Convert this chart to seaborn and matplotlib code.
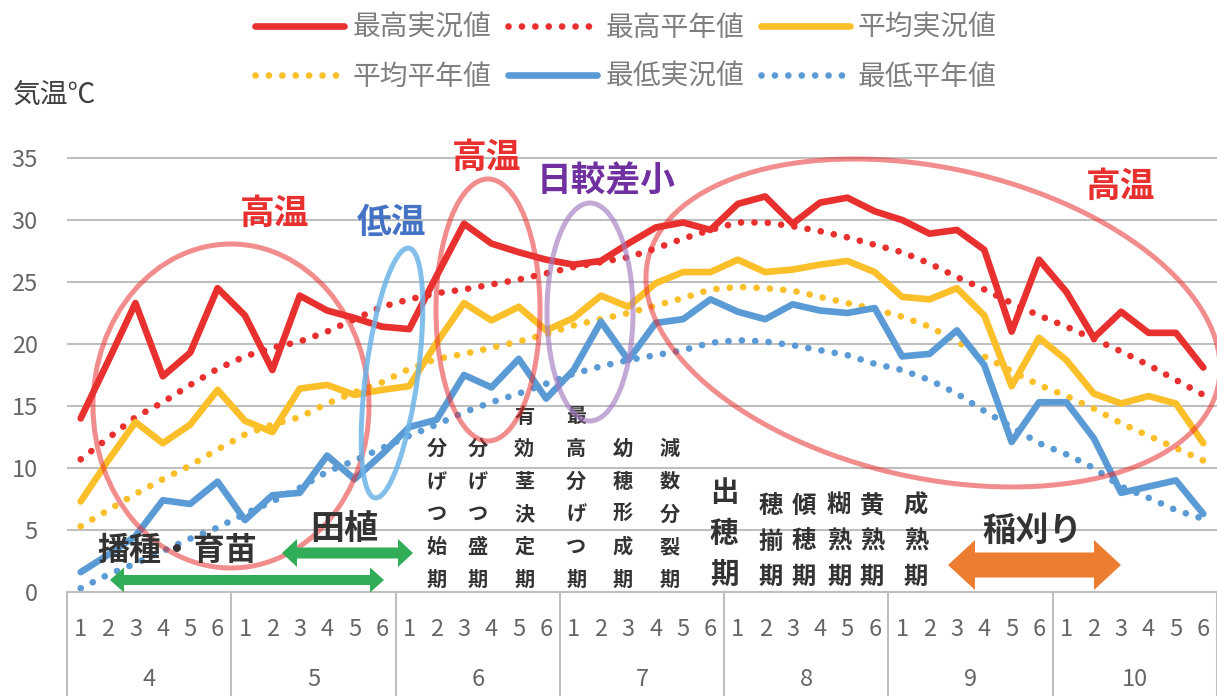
import numpy as np
import pandas as pd
import matplotlib
matplotlib.use("Agg")
import matplotlib.pyplot as plt
import matplotlib.transforms as mtransforms
from matplotlib.patches import Ellipse, Polygon
from matplotlib.lines import Line2D
import seaborn as sns

# ---------------- data ----------------
months = ["4", "5", "6", "7", "8", "9", "10"]
periods = ["1", "2", "3", "4", "5", "6"]

max_actual = [14.0, 18.6, 23.3, 17.4, 19.3, 24.5, 22.3, 17.9, 23.9, 22.7, 22.1, 21.4,
              21.2, 25.5, 29.7, 28.1, 27.4, 26.8, 26.4, 26.7, 28.1, 29.4, 29.8, 29.2,
              31.3, 31.9, 29.7, 31.4, 31.8, 30.7, 30.0, 28.9, 29.2, 27.6, 21.0, 26.8,
              24.2, 20.5, 22.6, 20.9, 20.9, 18.1]
max_normal = [10.7, 12.4, 14.1, 15.3, 16.7, 18.0, 19.0, 19.7, 20.2, 21.0, 22.0, 23.0,
              23.6, 24.1, 24.4, 24.8, 25.2, 25.7, 26.2, 26.6, 27.0, 27.7, 28.5, 29.2,
              29.8, 29.8, 29.5, 29.1, 28.6, 28.0, 27.4, 26.5, 25.4, 24.4, 23.3, 22.3,
              21.4, 20.4, 19.4, 18.3, 17.1, 15.9]
avg_actual = [7.3, 10.6, 13.7, 12.0, 13.5, 16.3, 13.8, 12.9, 16.4, 16.7, 15.9, 16.3,
              16.6, 20.1, 23.3, 21.9, 23.0, 21.1, 22.1, 23.9, 23.0, 24.9, 25.8, 25.8,
              26.8, 25.8, 26.0, 26.4, 26.7, 25.8, 23.8, 23.6, 24.5, 22.3, 16.6, 20.5,
              18.7, 16.0, 15.2, 15.8, 15.2, 12.0]
avg_normal = [5.3, 6.6, 7.9, 9.1, 10.2, 11.5, 12.7, 13.5, 14.1, 15.2, 16.1, 16.9,
              18.0, 18.8, 19.2, 19.7, 20.2, 20.8, 21.5, 22.0, 22.5, 23.1, 23.7, 24.4,
              24.6, 24.5, 24.3, 23.8, 23.3, 22.8, 22.2, 21.4, 20.2, 19.0, 17.8, 16.7,
              15.8, 14.8, 13.6, 12.6, 11.6, 10.6]
min_actual = [1.6, 3.0, 4.5, 7.4, 7.1, 8.9, 5.8, 7.8, 8.0, 11.0, 9.1, 11.1,
              13.3, 13.9, 17.5, 16.5, 18.8, 15.6, 17.9, 21.8, 18.7, 21.7, 22.0, 23.6,
              22.6, 22.0, 23.2, 22.7, 22.5, 22.9, 19.0, 19.2, 21.1, 18.3, 12.1, 15.3,
              15.3, 12.4, 8.0, 8.5, 9.0, 6.3]
min_normal = [0.3, 1.4, 2.3, 3.3, 4.3, 5.2, 6.3, 7.3, 8.4, 9.7, 10.6, 11.6,
              12.6, 13.5, 14.5, 15.3, 16.0, 16.8, 17.6, 18.2, 18.7, 19.1, 19.5, 20.1,
              20.3, 20.2, 19.9, 19.5, 19.1, 18.4, 17.9, 17.1, 16.0, 14.6, 13.3, 12.0,
              11.1, 10.0, 8.5, 7.6, 6.6, 5.9]

series_names = ["最高実況値", "最高平年値", "平均実況値", "平均平年値", "最低実況値", "最低平年値"]
series_values = [max_actual, max_normal, avg_actual, avg_normal, min_actual, min_normal]

stages = [("分げつ始期", 13.0), ("分げつ盛期", 14.5), ("有効茎決定期", 16.2),
          ("最高分げつ期", 18.1), ("幼穂形成期", 19.8), ("減数分裂期", 21.5),
          ("出穂期", 23.5), ("穂揃期", 25.2), ("傾穂期", 26.4), ("糊熟期", 27.7),
          ("黄熟期", 28.9), ("成熟期", 30.5)]

# ---------------- style ----------------
RED = "#E8302F"
YEL = "#FBBF2A"
BLU = "#5B9BD5"
GRID = "#BFBFBF"
DARK = "#333333"
GRAY = "#666666"

sns.set_theme(style="white")
plt.rcParams["font.family"] = ["Noto Sans CJK JP", "DejaVu Sans"]

W, H = 1217, 696
fig = plt.figure(figsize=(W / 100, H / 100), dpi=100)
ax_left, ax_right, ax_bot, ax_top = 67, 1217, 592, 140
ax = fig.add_axes([ax_left / W, (H - ax_bot) / H, (ax_right - ax_left) / W, (ax_bot - ax_top) / H])

n = len(max_actual)
x = np.arange(n)
ax.set_xlim(-0.5, n - 0.5)
ax.set_ylim(0, 35 * (ax_bot - ax_top) / 434)

colors = [RED, RED, YEL, YEL, BLU, BLU]
dotted = [False, True, False, True, False, True]
for name, vals, c, d in zip(series_names, series_values, colors, dotted):
    df = pd.DataFrame({"x": x, "y": vals})
    sns.lineplot(data=df, x="x", y="y", ax=ax, color=c, linewidth=4.8,
                 legend=False)
    ln = ax.lines[-1]
    ln.set_label(name)
    if d:
        ln.set_linestyle((0, (0.01, 2.0)))
        ln.set_dash_capstyle("round")
    else:
        ln.set_solid_capstyle("round")
        ln.set_solid_joinstyle("round")

# axes styling
for s in ["top", "right", "left"]:
    ax.spines[s].set_visible(False)
ax.spines["bottom"].set_color(GRID)
ax.spines["bottom"].set_linewidth(1.5)
ax.set_yticks(np.arange(0, 36, 5))
ax.set_yticklabels([str(v) for v in range(0, 36, 5)])
ax.yaxis.grid(True, color=GRID, linewidth=1.5)
ax.set_axisbelow(True)
ax.tick_params(axis="y", length=0, pad=21, labelsize=17, labelcolor=GRAY)
ax.set_xticks(x)
ax.set_xticklabels(periods * len(months))
ax.tick_params(axis="x", length=0, pad=19, labelsize=17, labelcolor=GRAY)
ax.set_xlabel("")
ax.set_ylabel("")

# pixel transform (x right, y down)
PX = mtransforms.Affine2D().scale(1 / W, -1 / H).translate(0, 1) + fig.transFigure
BL = mtransforms.blended_transform_factory(ax.transData, PX)

# category table lines and month labels
for k in range(len(months) + 1):
    xb = -0.5 + 6 * k
    ax.add_line(Line2D([xb, xb], [592, 696], transform=BL, color=GRID, lw=1.5, clip_on=False))
for k, m in enumerate(months):
    ax.text(6 * k + 2.5, 680, m, transform=BL, ha="center", va="center", fontsize=17,
            color=GRAY, clip_on=False)

# legend (row-major order: reorder for column-filling legend)
lines = ax.lines[:6]
order = [0, 3, 1, 4, 2, 5]
leg = ax.legend(handles=[lines[i] for i in order], loc="upper center", ncol=3,
                bbox_to_anchor=(626 / W, 1 + 4 / H), bbox_transform=fig.transFigure,
                frameon=False, fontsize=20, handlelength=3.2, handletextpad=0.3,
                columnspacing=0.6, labelspacing=0.68, borderpad=0.1)
for t in leg.get_texts():
    t.set_color("#7F7F7F")

def ftxt(px, py, s, size, color, weight="bold", ha="center", va="center"):
    fig.text(px / W, 1 - py / H, s, fontsize=size, color=color, fontweight=weight,
             ha=ha, va=va)

ftxt(13, 95, "気温℃", 20, "#404040", weight="normal", ha="left")

# ellipses
def ell(cx, cy, w, h, ang, color, alpha, lw=3.6):
    e = Ellipse((cx, cy), w, h, angle=ang, transform=PX, fill=False, edgecolor=color,
                alpha=alpha, linewidth=lw)
    fig.add_artist(e)

ell(231, 406, 276, 324, 0, RED, 0.55)
ell(392, 373, 52, 252, 7.7, "#6CB4E8", 0.85)
ell(488, 310, 104, 262, 0, RED, 0.55)
ell(590, 312, 86, 218, 0, "#A47BC0", 0.65)
ell(933, 323, 584, 310, 12.5, RED, 0.55)

# annotation words
ftxt(275, 213, "高温", 25, RED)
ftxt(391, 222, "低温", 25, "#4472C4")
ftxt(487, 157, "高温", 25, RED)
ftxt(606, 181, "日較差小", 25, "#7030A0")
ftxt(1121, 186, "高温", 25, RED)
ftxt(177, 551, "播種・育苗", 23, DARK)
ftxt(344, 529, "田植", 24.5, DARK)
ftxt(1032, 531, "稲刈り", 24, DARK)

# growth stage vertical labels
for label, xpos in stages:
    nch = len(label)
    if nch == 3:
        if label == "出穂期":
            size, pitch, ybot = 20.5, 41, 575
        else:
            size, pitch, ybot = 17.5, 35.5, 577
    else:
        size, pitch, ybot = 14.5, 32.6, 579
    for j, ch in enumerate(label):
        py = ybot - pitch * (nch - 1 - j)
        ax.text(xpos, py, ch, transform=BL, ha="center", va="center", fontsize=size,
                color=DARK, fontweight="bold", clip_on=False)

# double arrows
def darrow(x0, x1, yc, shaft, head_h, head_len, color):
    pts = [(x0, yc), (x0 + head_len, yc - head_h / 2), (x0 + head_len, yc - shaft / 2),
           (x1 - head_len, yc - shaft / 2), (x1 - head_len, yc - head_h / 2), (x1, yc),
           (x1 - head_len, yc + head_h / 2), (x1 - head_len, yc + shaft / 2),
           (x0 + head_len, yc + shaft / 2), (x0 + head_len, yc + head_h / 2)]
    fig.add_artist(Polygon(pts, closed=True, transform=PX, facecolor=color,
                           edgecolor="none"))

darrow(110, 384, 580, 10, 25, 14, "#30AD56")
darrow(282, 413, 553, 11, 28, 15, "#30AD56")
darrow(948, 1121, 565, 25, 50, 27, "#ED7D31")

fig.savefig("out.png", dpi=100)
